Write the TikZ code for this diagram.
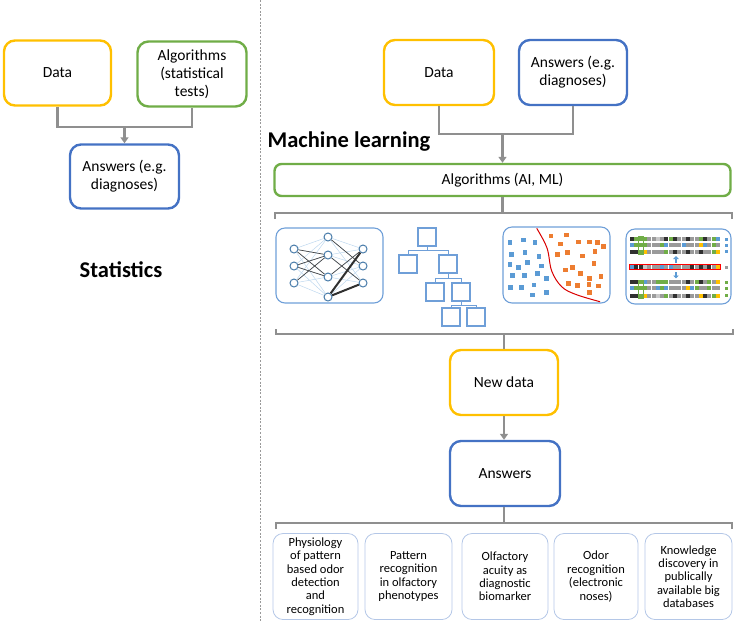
\documentclass[tikz,border=0pt]{standalone}
\usepackage{fontspec}
\setmainfont{Carlito}
\usetikzlibrary{arrows.meta}
\definecolor{myyellow}{HTML}{FFC000}
\definecolor{mygreen}{HTML}{70AD47}
\definecolor{myblue}{HTML}{4472C4}
\definecolor{conngray}{HTML}{8F8F8F}
\definecolor{panelblue}{HTML}{6F9FD8}
\definecolor{lightline}{HTML}{BDD7EE}
\definecolor{bottomblue}{HTML}{B4C7E7}
\definecolor{sblue}{HTML}{5B9BD5}
\definecolor{sorange}{HTML}{ED7D31}
\definecolor{gk}{HTML}{303030}
\definecolor{gn}{HTML}{70AD47}
\definecolor{gb}{HTML}{5B9BD5}
\definecolor{gy}{HTML}{FFC000}
\definecolor{gd}{HTML}{9A9A9A}
\definecolor{gl}{HTML}{C8C8C8}
\begin{document}
\begin{tikzpicture}[x=1pt,y=-1pt,
  box/.style={draw, rounded corners=11pt, line width=2.4pt, fill=white, align=center,
    font=\fontsize{15.5}{18}\selectfont, inner sep=2pt},
  ybox/.style={box, draw=myyellow},
  gbox/.style={box, draw=mygreen},
  bbox/.style={box, draw=myblue},
  conn/.style={draw=conngray, line width=2.6pt},
  arr/.style={conn, -{Triangle[length=6pt,width=8pt]}},
  title/.style={font=\fontsize{22.5}{26}\bfseries\selectfont},
  outbox/.style={draw=bottomblue, line width=0.8pt, rounded corners=10pt, align=center,
    minimum width=#1, minimum height=86pt, inner sep=1pt, font=\fontsize{12.5}{13.4}\selectfont},
  panel/.style={draw=panelblue, line width=1.1pt, rounded corners=9pt},
  nn/.style={circle, draw=sblue!80!black, line width=1pt, fill=white, minimum size=8pt, inner sep=0pt},
  tbox/.style={draw=panelblue, line width=1.2pt, minimum size=18pt, inner sep=0pt},
  tline/.style={draw=panelblue, line width=0.9pt},
  llink/.style={draw=lightline, line width=0.5pt},
  dlink/.style={draw=gk!90, line width=0.7pt},
  tlink/.style={draw=gk, line width=2pt}
]
\useasboundingbox (0,0) rectangle (735,622);

% divider
\draw[gray!80, line width=0.6pt, dash pattern=on 2pt off 1.6pt] (260,0) -- (260,622);

% ---------- Statistics (left) ----------
\node[ybox, minimum width=107pt, minimum height=65pt] (ldata) at (57.5,73) {Data};
\node[gbox, minimum width=109pt, minimum height=65pt] (lalg) at (192,74) {Algorithms\\(statistical\\tests)};
\node[bbox, minimum width=109pt, minimum height=64pt] (lans) at (124.5,176.5) {Answers (e.g.\\diagnoses)};
\coordinate (lj) at (124.5,127);
\draw[conn] (ldata.south) |- (lj) -| (lalg.south);
\draw[arr] (lj) -- (lans.north);
\node[title] (stat) at (121,270) {Statistics};

% ---------- Machine learning (right) ----------
\node[ybox, minimum width=110pt, minimum height=65pt] (rdata) at (439,72.5) {Data};
\node[bbox, minimum width=108pt, minimum height=65pt] (rans) at (573,72.5) {Answers (e.g.\\diagnoses)};
\node[title] (ml) at (349,142) {Machine learning};
\node[gbox, rounded corners=7pt, minimum width=456pt, minimum height=32pt] (mlalg) at (502.5,180) {Algorithms (AI, ML)};
\coordinate (rj) at (502.5,134);
\draw[conn] (rdata.south) |- (rj) -| (rans.south);
\draw[arr] (rj) -- (mlalg.north);

% top bracket
\coordinate (tbm) at (502.5,213);
\coordinate (tbl) at (275,219);
\coordinate (tbr) at (732,219);
\draw[conn] (mlalg.south) -- (tbm);
\draw[conn] (tbl) |- (tbm) -| (tbr);

% --- neural network panel ---
\draw[panel] (276,228) rectangle (383,303);
\foreach \i/\y in {1/249,2/266,3/283} \node[nn] (L\i) at (294,\y) {};
\foreach \i/\y in {1/237,2/255,3/277,4/297} \node[nn] (M\i) at (328,\y) {};
\foreach \i/\y in {1/249,2/266,3/283} \node[nn] (R\i) at (363,\y) {};
\foreach \a in {1,2,3} \foreach \b in {1,2,3,4} \draw[llink] (L\a) -- (M\b);
\foreach \a in {1,2,3,4} \foreach \b in {1,2,3} \draw[llink] (M\a) -- (R\b);
\draw[dlink] (L1) -- (M2); \draw[dlink] (L1) -- (M3);
\draw[dlink] (L2) -- (M2); \draw[dlink] (L2) -- (M3);
\draw[dlink] (L3) -- (M2);
\draw[dlink] (M1) -- (R2); \draw[dlink] (M2) -- (R3); \draw[dlink] (M3) -- (R1);
\draw[tlink] (M4) -- (R1); \draw[tlink] (M4) -- (R3);

% --- decision tree ---
\node[tbox] (T1) at (427,237) {};
\node[tbox] (T2) at (408,264) {};
\node[tbox] (T3) at (448,264) {};
\node[tbox] (T4) at (435,292) {};
\node[tbox] (T5) at (461,292) {};
\node[tbox] (T6) at (451,317) {};
\node[tbox] (T7) at (476,317) {};
\draw[tline] (T1.south) -- ++(0,4) -| (T2.north);
\draw[tline] (T1.south) -- ++(0,4) -| (T3.north);
\draw[tline] (T3.south) -- ++(0,5) -| (T4.north);
\draw[tline] (T3.south) -- ++(0,5) -| (T5.north);
\draw[tline] (T5.south) -- ++(0,3.5) -| (T6.north);
\draw[tline] (T5.south) -- ++(0,3.5) -| (T7.north);

% --- scatter / classification ---
\draw[panel] (503,227) rectangle (610,303);
\foreach \x/\y in {510/242.7,523.3/240,535/242.3,511.7/254.3,525/252.3,539/256.7,510/264.3,518.3/267.3,527.7/262.7,541.7/266,512.3/275.7,524.3/275.7,537.7/273.3,546.7/278.3,510.7/287.7,521.7/287.7,534/285,532.7/295,546.7/292.7}
  \fill[sblue] (\x-2.3,\y-2.3) rectangle (\x+2.3,\y+2.3);
\foreach \x/\y in {551/236,566.7/235,560.7/244,578.3/242,589.3/242,597.7/242.3,603.3/246.7,557.7/254.3,567.7/252.3,582.3/256,595/251.7,594/263.3,565.7/270,572.7/267.7,580.7/273.3,589.3/278.3,601/276.7,568.3/283.3,577.7/285.7,589/284.3,598.3/286,589.3/292.7}
  \fill[sorange] (\x-2.3,\y-2.3) rectangle (\x+2.3,\y+2.3);
\draw[red!85!black, line width=1pt] plot[smooth, tension=0.6] coordinates {(536.7,228.3) (547,248) (551.7,271) (561.7,286.7) (576,294.5) (600,301.7)};

% --- sequence alignment ---
\draw[panel] (626,229) rectangle (731,304);
\foreach \y/\row in {
  239/{k,n,n,n,d,d,l,d,k,n,k,d,d,k,d,d,n,k,d,n,b},
  245/{b,n,n,n,d,d,d,n,b,d,d,d,b,d,d,d,y,b,d,n,d},
  251.7/{k,k,n,y,d,d,d,d,n,d,k,d,d,k,d,d,k,d,d,n,y},
  267.3/{b,k,k,l,d,d,d,b,d,b,d,d,d,d,k,d,k,d,k,d,y},
  282.3/{k,k,n,b,d,d,n,n,n,d,d,d,d,k,d,n,k,d,n,d,y},
  288.3/{b,n,n,n,d,d,b,n,b,d,d,d,d,y,b,n,d,d,n,d,d},
  295.7/{k,k,n,y,d,d,l,d,n,d,k,d,d,k,d,d,y,k,d,n,y}}
  {\foreach \c [count=\i] in \row
     \fill[g\c] (630+\i*4.3-4.3,\y-2) rectangle ++(4.0,4);}
\draw[gn, line width=0.6pt] (638.3,236.5) rectangle (643.1,254.2);
\draw[gn, line width=0.6pt] (638.3,279.8) rectangle (643.1,298.2);
\draw[red, line width=0.7pt] (629.3,264.8) rectangle (720.3,269.8);
\foreach \y in {239,245,251.7} \fill[gb] (724.5,\y-1.5) rectangle ++(3.5,3);
\fill[gd] (724.5,265.8) rectangle ++(3.5,3);
\foreach \y in {282.3,288.3,295.7} \fill[gn] (724.5,\y-1.5) rectangle ++(3.5,3);
\draw[gb, line width=1.8pt, -{Triangle[length=3pt,width=5.5pt]}] (676,262.5) -- (676,256);
\draw[gb, line width=1.8pt, -{Triangle[length=3pt,width=5.5pt]}] (676,272) -- (676,278.5);

% bottom bracket of algorithms
\coordinate (bbm) at (504,334);
\coordinate (bbl) at (276,329);
\coordinate (bbr) at (733,329);
\draw[conn] (bbl) |- (bbm) -| (bbr);

% new data / answers
\node[ybox, minimum width=108pt, minimum height=65pt] (newdata) at (504,382.5) {New data};
\node[bbox, minimum width=110pt, minimum height=65pt] (answers) at (505,473.5) {Answers};
\draw[conn] (bbm) -- (newdata.north);
\draw[arr] (newdata.south) -- (answers.north -| newdata.south);

% bracket to applications
\coordinate (abm) at (504,523);
\coordinate (abl) at (276,529);
\coordinate (abr) at (732,529);
\draw[conn] (answers.south -| abm) -- (abm);
\draw[conn] (abl) |- (abm) -| (abr);

% applications
\node[outbox=85pt] (o1) at (315.5,576.5) {Physiology\\of pattern\\based odor\\detection\\and\\recognition};
\node[outbox=87pt] (o2) at (408.5,576.5) {Pattern\\recognition\\in olfactory\\phenotypes};
\node[outbox=86pt] (o3) at (505,576.5) {Olfactory\\acuity as\\diagnostic\\biomarker};
\node[outbox=84pt] (o4) at (596,576.5) {Odor\\recognition\\(electronic\\noses)};
\node[outbox=87pt] (o5) at (688.5,576.5) {Knowledge\\discovery in\\publically\\available big\\databases};
\end{tikzpicture}
\end{document}
